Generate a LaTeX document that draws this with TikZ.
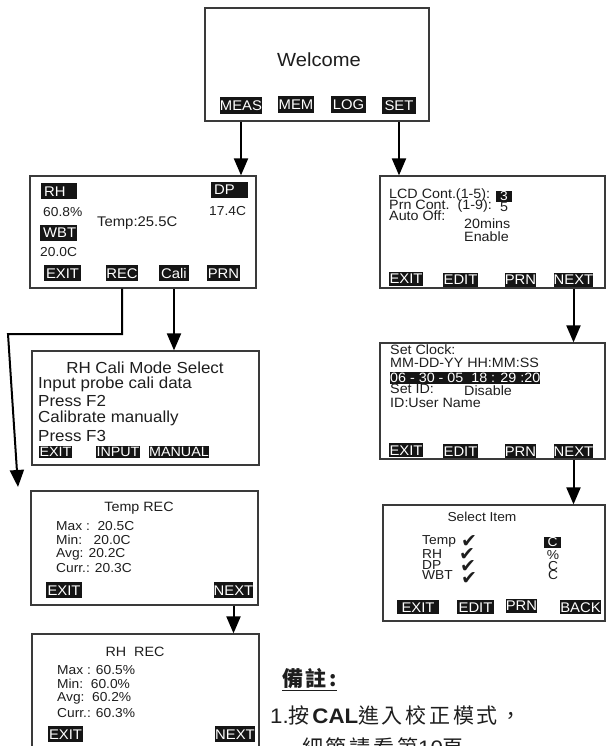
\documentclass[tikz,border=0pt]{standalone}
\usepackage{fontspec}
\setmainfont{Liberation Sans}[FakeStretch=1.06]
\newfontfamily\cjk{Noto Sans CJK TC}[LetterSpace=13]
\newfontfamily\dejavu{DejaVu Sans}
\usetikzlibrary{arrows.meta}
\definecolor{boxc}{HTML}{3A3A3A}
\definecolor{btnc}{HTML}{151515}
\definecolor{txtc}{HTML}{1E1E1E}
\newcommand\myfs[1]{\fontsize{#1}{#1}\selectfont}
\tikzset{
  screen/.style={draw=boxc, line width=1.2pt, inner sep=0pt, fill=white},
  btn/.style={fill=btnc, text=white, font=\myfs{14}, inner sep=0pt,
    minimum height=16pt, text height=10pt, text depth=0pt},
  tag/.style={btn, anchor=west, text width=30pt, align=left, inner xsep=3pt},
  lbl/.style={anchor=west, inner sep=0pt, text=txtc, font=\myfs{13}},
  ctr/.style={inner sep=0pt, text=txtc},
  arr/.style={draw=black, line width=2pt, -{Triangle[width=14pt,length=17pt]}},
  chk/.style={inner sep=0pt, text=txtc, font=\dejavu\myfs{19}}
}
\begin{document}
\begin{tikzpicture}[x=1pt,y=-1pt]
\clip (0,0) rectangle (607,746);
\fill[white] (0,0) rectangle (607,746);

% ---------- Welcome ----------
\node[screen, minimum width=224pt, minimum height=113pt] (welcome) at (317,64.5) {};
\node[ctr, font=\myfs{19}] (wtxt) at (319,60) {Welcome};
\node[btn, minimum width=42pt, minimum height=17pt] (meas) at (241,106) {MEAS};
\node[btn, minimum width=36pt, minimum height=17pt] (mem) at (296,105) {MEM};
\node[btn, minimum width=35pt, minimum height=17pt] (log) at (348.5,105) {LOG};
\node[btn, minimum width=34pt, minimum height=17pt] (set) at (399,106) {SET};

% ---------- Measure ----------
\node[screen, minimum width=226pt, minimum height=112pt] (measure) at (143,232) {};
\node[tag] (rhtag) at (41,191) {RH};
\node[lbl] (rhval) at (43,212) {60.8\%};
\node[tag, text width=31pt] (wbttag) at (40,232.5) {WBT};
\node[lbl] (wbtval) at (40,252) {20.0C};
\node[lbl, font=\myfs{14}] (temp) at (97,223) {Temp:25.5C};
\node[tag, text width=31pt] (dptag) at (211,189.5) {DP};
\node[lbl] (dpval) at (209,211) {17.4C};
\node[btn, minimum width=37pt] (mexit) at (62.5,273) {EXIT};
\node[btn, minimum width=30pt] (mrec) at (122,273) {REC};
\node[btn, minimum width=30pt] (mcali) at (174,273) {Cali};
\node[btn, minimum width=33pt] (mprn) at (223.5,273) {PRN};

% ---------- Settings ----------
\node[screen, minimum width=225pt, minimum height=112pt] (settings) at (492.5,232) {};
\node[lbl, font=\myfs{13.5}] (lcd) at (389,195.5) {LCD Cont.(1-5):};
\node[btn, minimum width=16pt, minimum height=11pt, text height=8.5pt, font=\myfs{13}] (lcdv) at (504,196) {3};
\node[lbl, font=\myfs{13.5}] (prn) at (389,206) {Prn Cont.\ \ (1-9):};
\node[ctr, font=\myfs{13.5}] (prnv) at (504,206.5) {5};
\node[lbl, font=\myfs{13.5}] (auto) at (389,215.5) {Auto Off:};
\node[lbl, font=\myfs{13.5}] (mins) at (464,224) {20mins};
\node[lbl, font=\myfs{13.5}] (enable) at (464,237) {Enable};
\node[btn, minimum width=34pt, minimum height=14pt] (sexit) at (406,278.5) {EXIT};
\node[btn, minimum width=35pt, minimum height=14pt] (sedit) at (460.5,279.5) {EDIT};
\node[btn, minimum width=31pt, minimum height=14pt] (sprn) at (520.5,279.5) {PRN};
\node[btn, minimum width=39pt, minimum height=14pt] (snext) at (573.5,279.5) {NEXT};

% ---------- Cali mode ----------
\node[screen, minimum width=227pt, minimum height=114pt] (cali) at (145.5,408) {};
\node[ctr, font=\myfs{16}] (calit) at (145,368) {RH Cali Mode Select};
\node[lbl, font=\myfs{16}] (c1) at (38,384) {Input probe cali data};
\node[lbl, font=\myfs{16}] (c2) at (38,401) {Press F2};
\node[lbl, font=\myfs{16}] (c3) at (38,418) {Calibrate manually};
\node[lbl, font=\myfs{16}] (c4) at (38,436) {Press F3};
\node[btn, minimum width=33pt, minimum height=12pt, text height=9pt, font=\myfs{13.5}] (cexit) at (55.5,451.5) {EXIT};
\node[btn, minimum width=44pt, minimum height=12pt, text height=9pt, font=\myfs{13.5}] (cinput) at (118,451.5) {INPUT};
\node[btn, minimum width=60pt, minimum height=12pt, text height=9pt, font=\myfs{13.5}] (cman) at (179,451.5) {MANUAL};

% ---------- Set Clock ----------
\node[screen, minimum width=225pt, minimum height=116pt] (clock) at (492.5,401) {};
\node[lbl, font=\myfs{13.5}] (sc1) at (390,350) {Set Clock:};
\node[lbl, font=\myfs{13.5}] (sc2) at (390,363) {MM-DD-YY HH:MM:SS};
\node[btn, anchor=west, minimum width=146pt, minimum height=12pt, text height=9pt, font=\myfs{13.5}] (date) at (390,378) {06 - 30 - 05\ \ 18 : 29 :20};
\node[lbl, font=\myfs{13.5}] (sc3) at (390,388.5) {Set ID:};
\node[lbl, font=\myfs{13.5}] (sc4) at (464,391) {Disable};
\node[lbl, font=\myfs{13.5}] (sc5) at (390,403) {ID:User Name};
\node[btn, minimum width=34pt, minimum height=14pt] (kexit) at (406,450) {EXIT};
\node[btn, minimum width=35pt, minimum height=14pt] (kedit) at (460.5,451) {EDIT};
\node[btn, minimum width=31pt, minimum height=14pt] (kprn) at (520.5,451) {PRN};
\node[btn, minimum width=39pt, minimum height=14pt] (knext) at (573.5,451) {NEXT};

% ---------- Select Item ----------
\node[screen, minimum width=222pt, minimum height=116pt] (select) at (494,563) {};
\node[ctr, font=\myfs{13}] (selt) at (482,517) {Select Item};
\node[lbl] (itemp) at (422,541) {Temp};
\node[lbl] (irh) at (422,554) {RH};
\node[lbl] (idp) at (422,565) {DP};
\node[lbl] (iwbt) at (422,575) {WBT};
\node[chk] (k1) at (469,542) {✔};
\node[chk] (k2) at (467,555) {✔};
\node[chk] (k3) at (468,567) {✔};
\node[chk] (k4) at (469,578) {✔};
\node[btn, minimum width=17pt, minimum height=11pt, text height=8.5pt, font=\myfs{13}] (u1) at (552.5,542) {C};
\node[ctr, font=\myfs{13}] (u2) at (553,555) {\%};
\node[ctr, font=\myfs{13}] (u3) at (553,566) {C};
\node[ctr, font=\myfs{13}] (u4) at (553,575) {C};
\node[btn, minimum width=42pt, minimum height=14pt] (iexit) at (418,607) {EXIT};
\node[btn, minimum width=37pt, minimum height=14pt] (iedit) at (475.5,607) {EDIT};
\node[btn, minimum width=31pt, minimum height=14pt] (iprn) at (521.5,605.5) {PRN};
\node[btn, minimum width=41pt, minimum height=14pt] (iback) at (580.5,607) {BACK};

% ---------- Temp REC ----------
\node[screen, minimum width=227pt, minimum height=114pt] (temprec) at (144.5,548) {};
\node[ctr, font=\myfs{13.5}] (trt) at (139,508) {Temp REC};
\node[lbl] (t1) at (56,526) {Max :\ \ 20.5C};
\node[lbl] (t2) at (56,540) {Min:\ \ \ 20.0C};
\node[lbl] (t3) at (56,554) {Avg: 20.2C};
\node[lbl] (t4) at (56,568) {Curr.: 20.3C};
\node[btn, minimum width=36pt] (texit) at (64,590) {EXIT};
\node[btn, minimum width=39pt] (tnext) at (233.5,590) {NEXT};

% ---------- RH REC ----------
\node[screen, minimum width=227pt, minimum height=136pt] (rhrec) at (145.5,702) {};
\node[ctr, font=\myfs{13.5}] (rrt) at (135,652) {RH\ \ REC};
\node[lbl] (r1) at (57,670) {Max : 60.5\%};
\node[lbl] (r2) at (57,684) {Min:\ \ 60.0\%};
\node[lbl] (r3) at (57,698) {Avg:\ \ 60.2\%};
\node[lbl] (r4) at (57,713) {Curr.: 60.3\%};
\node[btn, minimum width=35pt] (rexit) at (65.5,734) {EXIT};
\node[btn, minimum width=38pt] (rnext) at (235,734) {NEXT};

% ---------- Notes ----------
\node[lbl, font=\cjk\myfs{21}\bfseries] (note) at (282,680) {\underline{備註:}};
\node[lbl, font=\myfs{21}] (n1) at (270,715) {1.{\cjk 按}\textbf{CAL}{\cjk 進入校正模式，}};
\node[lbl, font=\myfs{21}] (n2) at (302,748) {{\cjk 細節請看第}10{\cjk 頁}};

% ---------- Connectors ----------
\coordinate (recbend) at (8,334);
\coordinate (recend) at (18,487);
\draw[arr] (meas |- welcome.south) -- (meas |- measure.north);
\draw[arr] (set |- welcome.south) -- (set |- settings.north);
\draw[arr] (mcali |- measure.south) -- (mcali |- cali.north);
\draw[arr] (mrec |- measure.south) -- (mrec |- recbend) -- (recbend) -- (recend);
\draw[arr] (snext |- settings.south) -- (snext |- clock.north);
\draw[arr] (knext |- clock.south) -- (knext |- select.north);
\draw[arr] (tnext |- temprec.south) -- (tnext |- rhrec.north);
\end{tikzpicture}
\end{document}
